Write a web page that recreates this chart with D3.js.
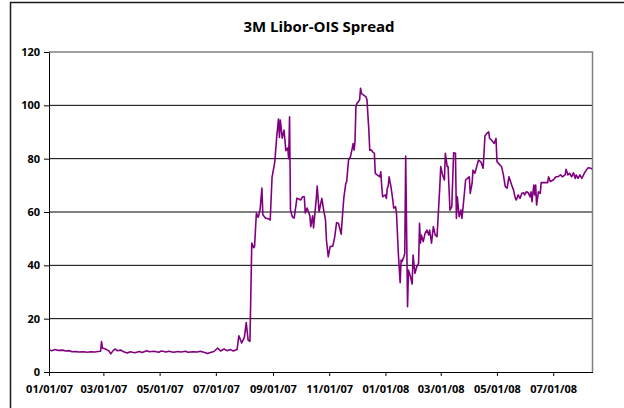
<!DOCTYPE html>
<html><head><meta charset="utf-8">
<script src="https://cdn.jsdelivr.net/npm/d3@7"></script>
<style>
html,body{margin:0;padding:0;background:#fff;}
svg{display:block;}
text{font-family:"Open Sans",Arial,sans-serif;font-weight:bold;fill:#000;}
</style></head>
<body>
<svg id="c" width="624" height="408"></svg>
<script>
const title = "3M Libor-OIS Spread";
const yTicks = [0,20,40,60,80,100,120];
const xTickDates = ["2007-01-01","2007-03-01","2007-05-01","2007-07-01","2007-09-01","2007-11-01","2008-01-01","2008-03-01","2008-05-01","2008-07-01"];
const dates = [
"2007-01-02","2007-01-04","2007-01-08","2007-01-11","2007-01-16","2007-01-19","2007-01-23","2007-01-26","2007-01-30","2007-02-02",
"2007-02-07","2007-02-12","2007-02-15","2007-02-20","2007-02-23","2007-02-26","2007-02-27","2007-02-28","2007-03-02","2007-03-05",
"2007-03-07","2007-03-09","2007-03-12","2007-03-14","2007-03-16","2007-03-20","2007-03-23","2007-03-27","2007-03-30","2007-04-04",
"2007-04-09","2007-04-12","2007-04-17","2007-04-20","2007-04-25","2007-04-30","2007-05-03","2007-05-08","2007-05-11","2007-05-16",
"2007-05-21","2007-05-24","2007-05-29","2007-06-01","2007-06-06","2007-06-11","2007-06-14","2007-06-19","2007-06-22","2007-06-26",
"2007-06-29","2007-07-03","2007-07-06","2007-07-10","2007-07-13","2007-07-17","2007-07-20","2007-07-24",
"2007-07-26","2007-07-29","2007-08-01","2007-08-03","2007-08-05","2007-08-07","2007-08-09","2007-08-11","2007-08-12","2007-08-14",
"2007-08-16","2007-08-18","2007-08-20","2007-08-21","2007-08-24","2007-08-27","2007-08-29","2007-08-31","2007-09-03","2007-09-05",
"2007-09-07","2007-09-08","2007-09-09","2007-09-11","2007-09-13","2007-09-15","2007-09-17","2007-09-18","2007-09-19","2007-09-20",
"2007-09-22","2007-09-24","2007-09-27","2007-10-01","2007-10-03","2007-10-05","2007-10-06","2007-10-08","2007-10-11","2007-10-12",
"2007-10-14","2007-10-15","2007-10-18","2007-10-19","2007-10-21","2007-10-24","2007-10-26","2007-10-28","2007-10-29","2007-10-31",
"2007-11-02","2007-11-05","2007-11-07","2007-11-09","2007-11-11","2007-11-14","2007-11-16","2007-11-17","2007-11-19","2007-11-20",
"2007-11-22","2007-11-24","2007-11-26","2007-11-27","2007-11-28","2007-11-29","2007-11-30","2007-12-01","2007-12-04","2007-12-05",
"2007-12-06","2007-12-08","2007-12-11","2007-12-12","2007-12-14","2007-12-15","2007-12-17","2007-12-18","2007-12-20","2007-12-21",
"2007-12-23","2007-12-26","2007-12-27","2007-12-28","2007-12-29","2008-01-01","2008-01-02","2008-01-03","2008-01-04","2008-01-05",
"2008-01-07","2008-01-09","2008-01-10","2008-01-12","2008-01-13","2008-01-15","2008-01-17","2008-01-18","2008-01-19","2008-01-21",
"2008-01-22","2008-01-23","2008-01-25","2008-01-26","2008-01-28","2008-01-30","2008-01-31","2008-02-02","2008-02-04","2008-02-06",
"2008-02-07","2008-02-08","2008-02-09","2008-02-11","2008-02-13","2008-02-15","2008-02-17","2008-02-18","2008-02-20","2008-02-22",
"2008-02-24","2008-02-26","2008-02-27","2008-02-29","2008-03-01","2008-03-03","2008-03-05","2008-03-06","2008-03-08","2008-03-09",
"2008-03-11","2008-03-13","2008-03-15","2008-03-17","2008-03-18","2008-03-19","2008-03-21","2008-03-23","2008-03-24","2008-03-26",
"2008-03-28","2008-03-30","2008-04-01","2008-04-02","2008-04-04","2008-04-05","2008-04-07","2008-04-09","2008-04-11","2008-04-13",
"2008-04-14","2008-04-16","2008-04-18","2008-04-20","2008-04-22","2008-04-23","2008-04-25","2008-04-28","2008-04-30","2008-05-01",
"2008-05-06","2008-05-08","2008-05-10","2008-05-12","2008-05-14","2008-05-17","2008-05-19","2008-05-21","2008-05-22","2008-05-24",
"2008-05-26","2008-05-28","2008-05-30","2008-05-31","2008-06-02","2008-06-04","2008-06-06","2008-06-07","2008-06-08","2008-06-10",
"2008-06-11","2008-06-12","2008-06-13","2008-06-15","2008-06-17","2008-06-18","2008-06-22","2008-06-25","2008-06-26","2008-06-28",
"2008-07-01","2008-07-04","2008-07-06","2008-07-09","2008-07-11","2008-07-14","2008-07-15","2008-07-17","2008-07-19","2008-07-21",
"2008-07-23","2008-07-25","2008-07-26","2008-07-28","2008-07-30","2008-08-01","2008-08-03","2008-08-04","2008-08-06","2008-08-08",
"2008-08-11","2008-08-12"
];
const spread = [
8.3,8.0,8.4,8.1,8.2,7.9,8.0,7.6,7.7,7.5,
7.6,7.4,7.6,7.5,7.7,7.8,11.4,9.0,8.8,8.3,
7.9,6.8,8.2,8.6,8.0,8.2,7.6,7.1,7.6,7.2,
7.7,7.3,8.0,7.6,7.8,7.4,7.9,7.5,7.8,7.4,
7.7,7.5,7.8,7.4,7.6,7.5,7.8,7.3,6.9,7.4,
7.7,9.0,7.9,8.6,8.0,8.4,7.9,8.4,
13.6,10.9,13.0,18.5,12.0,11.5,48.4,46.6,47.0,59.6,
58.0,60.8,69.0,59.0,57.7,57.5,57.0,73.0,78.9,88.0,
94.9,88.0,94.5,87.7,90.7,83.0,84.0,80.0,95.7,60.7,
58.2,57.7,65.2,64.5,65.7,65.7,59.6,61.5,58.6,54.5,
58.6,54.0,65.1,69.7,60.1,65.1,60.7,57.0,49.5,43.2,
47.0,47.3,50.7,56.0,55.8,51.7,61.5,65.7,70.7,71.5,
79.5,80.7,83.9,85.7,83.2,86.4,99.5,100.7,102.0,106.4,
104.5,103.9,103.2,102.0,90.7,83.2,83.2,82.6,82.0,74.5,
73.9,73.2,75.1,69.5,65.7,66.4,65.1,68.9,69.7,73.2,
69.5,64.5,61.4,62.0,59.5,44.5,33.5,42.0,41.4,43.2,
44.5,81.0,24.5,38.2,36.0,33.0,43.9,37.0,39.5,40.8,
55.8,48.3,51.4,48.9,52.0,53.2,51.4,53.2,48.3,54.5,
51.4,50.8,57.0,69.5,77.0,73.9,72.0,82.0,77.0,77.0,
60.7,62.0,82.2,82.0,57.6,65.7,58.2,60.7,57.6,64.5,
72.0,72.6,73.2,67.0,70.7,75.7,74.5,77.0,79.5,78.9,
78.5,76.4,88.5,89.5,90.1,87.6,87.0,85.7,87.6,78.9,
77.0,73.9,69.5,68.9,73.2,70.1,68.2,65.1,64.5,66.4,
65.1,67.0,67.2,66.4,67.6,67.2,65.7,67.6,63.9,70.1,
66.4,70.1,62.6,67.6,67.0,71.0,71.0,71.0,73.2,71.4,
72.0,73.2,73.2,73.9,73.2,73.9,76.0,73.9,74.5,73.2,
74.7,72.6,73.9,72.6,73.9,72.6,73.9,74.7,75.7,76.6,
76.4,76.0
];

const parse = d3.timeParse("%Y-%m-%d");
const data = dates.map((d,i)=>({date:parse(d), v:spread[i]}));

const svg = d3.select("#c");
const pLeft = 49, pRight = 592.5, pTop = 52, pBottom = 372;

const x = d3.scaleTime().domain([parse("2007-01-01"), new Date(2008,7,12,16)]).range([pLeft, pRight]);
const y = d3.scaleLinear().domain([0,120]).range([pBottom, pTop]);

// outer chart border (top and left visible)
svg.append("path").attr("d", `M10.5,408V2.5H624`).attr("fill","none").attr("stroke","#1a1a1a").attr("stroke-width",1.5);

// title
svg.append("text").attr("x",319).attr("y",31.5).attr("text-anchor","middle")
  .style("font-size","15px").text(title);

// gridlines
svg.append("g").selectAll("line").data(yTicks.filter(t=>t>0 && t<120)).join("line")
  .attr("x1",pLeft).attr("x2",pRight).attr("y1",d=>y(d)).attr("y2",d=>y(d))
  .attr("stroke","#000").attr("stroke-width",1);

// plot frame (top, right) gray
svg.append("path").attr("d",`M${pLeft},${y(120)}H${pRight}V${pBottom}`)
  .attr("fill","none").attr("stroke","#808080").attr("stroke-width",1.5);

// line
const line = d3.line().x(d=>x(d.date)).y(d=>y(d.v));
svg.append("path").datum(data).attr("d",line).attr("fill","none")
  .attr("stroke","#800080").attr("stroke-width",1.6).attr("stroke-linejoin","round");

// axes
const fmt = d3.timeFormat("%m/%d/%y");
const xAxis = svg.append("g").attr("transform",`translate(0,${pBottom})`)
  .call(d3.axisBottom(x).tickValues(xTickDates.map(parse)).tickFormat(fmt).tickSize(4).tickSizeOuter(0).tickPadding(9));
const yAxis = svg.append("g").attr("transform",`translate(${pLeft},0)`)
  .call(d3.axisLeft(y).tickValues(yTicks).tickSize(5).tickSizeOuter(0).tickPadding(4));

[xAxis,yAxis].forEach(g=>{
  g.select(".domain").attr("stroke","#000").attr("stroke-width",1);
  g.selectAll(".tick line").attr("stroke","#000");
  g.selectAll("text").style("font-size","11px").style("font-family",'"Open Sans",Arial,sans-serif').style("font-weight","bold").attr("fill","#000");
});
</script>
</body></html>
